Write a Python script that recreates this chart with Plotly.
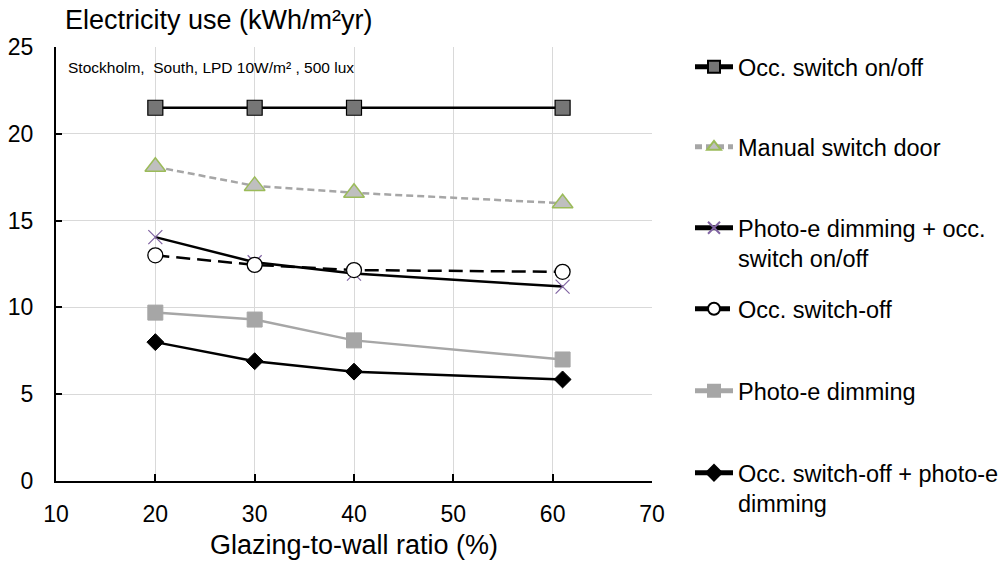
import plotly.graph_objects as go

gwr = [20, 30, 40, 61]
occ_on_off = [21.5, 21.5, 21.5, 21.5]
manual_door = [18.1, 17.0, 16.6, 16.0]
photo_occ_on_off = [14.05, 12.6, 11.95, 11.2]
occ_switch_off = [13.0, 12.45, 12.15, 12.05]
photo_dimming = [9.7, 9.3, 8.1, 7.0]
occ_off_photo = [8.0, 6.9, 6.3, 5.85]

names = ["Occ. switch on/off", "Manual switch door",
         "Photo-e dimming + occ.<br>switch on/off", "Occ. switch-off",
         "Photo-e dimming", "Occ. switch-off + photo-e<br>dimming"]

FONT = "Liberation Sans, Arial, sans-serif"
W, H = 1001, 562
L, R, T, B = 56, 652, 47, 481

fig = go.Figure()
styles = [
    (occ_on_off, dict(color="black", width=2.5), dict(symbol="square", size=15, color="#767676", line=dict(color="black", width=1.2))),
    (manual_door, dict(color="#A6A6A6", width=2.5, dash="7px,4px"), dict(symbol="triangle-up", size=18, color="#BFBFBF", line=dict(color="#9BBB59", width=1.5))),
    (photo_occ_on_off, dict(color="black", width=2.5), dict(symbol="x-thin", size=14, color="#8064A2", line=dict(color="#8064A2", width=1.2))),
    (occ_switch_off, dict(color="black", width=2.5, dash="14px,7px"), dict(symbol="circle", size=15, color="white", line=dict(color="black", width=1.3))),
    (photo_dimming, dict(color="#A6A6A6", width=2.5), dict(symbol="square", size=15, color="#A6A6A6", line=dict(color="#A6A6A6", width=1))),
    (occ_off_photo, dict(color="black", width=2.5), dict(symbol="diamond", size=13, color="black", line=dict(color="black", width=1))),
]
legend_centers = [66, 146, 227, 308, 390, 472]
for i, ((ys, ln, mk), nm) in enumerate(zip(styles, names)):
    lg = "legend" if i == 0 else f"legend{i+1}"
    fig.add_trace(go.Scatter(x=gwr, y=ys, name=nm, mode="lines+markers",
                             line=ln, marker=mk, legend=lg, showlegend=True))

leg_common = dict(font=dict(family=FONT, size=23.5, color="black"), bgcolor="rgba(0,0,0,0)",
                  itemsizing="constant", valign="top", xanchor="left", yanchor="top",
                  xref="container", yref="container",
                  tracegroupgap=0, itemwidth=38)
legs = {}
for i, yc in enumerate(legend_centers):
    key = "legend" if i == 0 else f"legend{i+1}"
    ypx = yc - 21
    legs[key] = dict(leg_common, x=690 / W, y=1 - ypx / H)

fig.update_layout(
    width=W, height=H,
    margin=dict(l=L, r=W - R, t=T, b=H - B, pad=0, autoexpand=False),
    paper_bgcolor="white", plot_bgcolor="white",
    font=dict(family=FONT, color="black"),
    title=dict(text="Electricity use (kWh/m²yr)", x=65 / W, xanchor="left",
               y=1 - 20 / H, yanchor="middle", font=dict(family=FONT, size=27, color="black")),
    xaxis=dict(range=[10, 70], dtick=10, tick0=10, showgrid=True, gridcolor="#D9D9D9", gridwidth=1,
               showline=True, linecolor="black", linewidth=2, ticks="inside", ticklen=7,
               tickwidth=2, tickcolor="black", zeroline=False, ticklabelstandoff=11, automargin=False,
               tickfont=dict(family=FONT, size=23, color="black"),
               title=dict(text="Glazing-to-wall ratio (%)", font=dict(family=FONT, size=27, color="black"), standoff=10)),
    yaxis=dict(range=[0, 25], dtick=5, showgrid=True, gridcolor="#D9D9D9", gridwidth=1,
               showline=True, linecolor="black", linewidth=2, ticks="inside", ticklen=6,
               tickwidth=2, tickcolor="black", zeroline=False, automargin=False,
               tickfont=dict(family=FONT, size=23, color="black"), ticklabelstandoff=16),
    annotations=[dict(text="Stockholm,  South, LPD 10W/m² , 500 lux", xref="paper", yref="paper",
                      x=(66 - L) / (R - L), y=(B - 67) / (B - T), xanchor="left", yanchor="middle",
                      showarrow=False, font=dict(family=FONT, size=15.5, color="black"))],
    **legs,
)
fig.write_html("out.html", config={"displayModeBar": False},
               post_script="document.body.style.margin='0';document.body.style.overflow='hidden';")
